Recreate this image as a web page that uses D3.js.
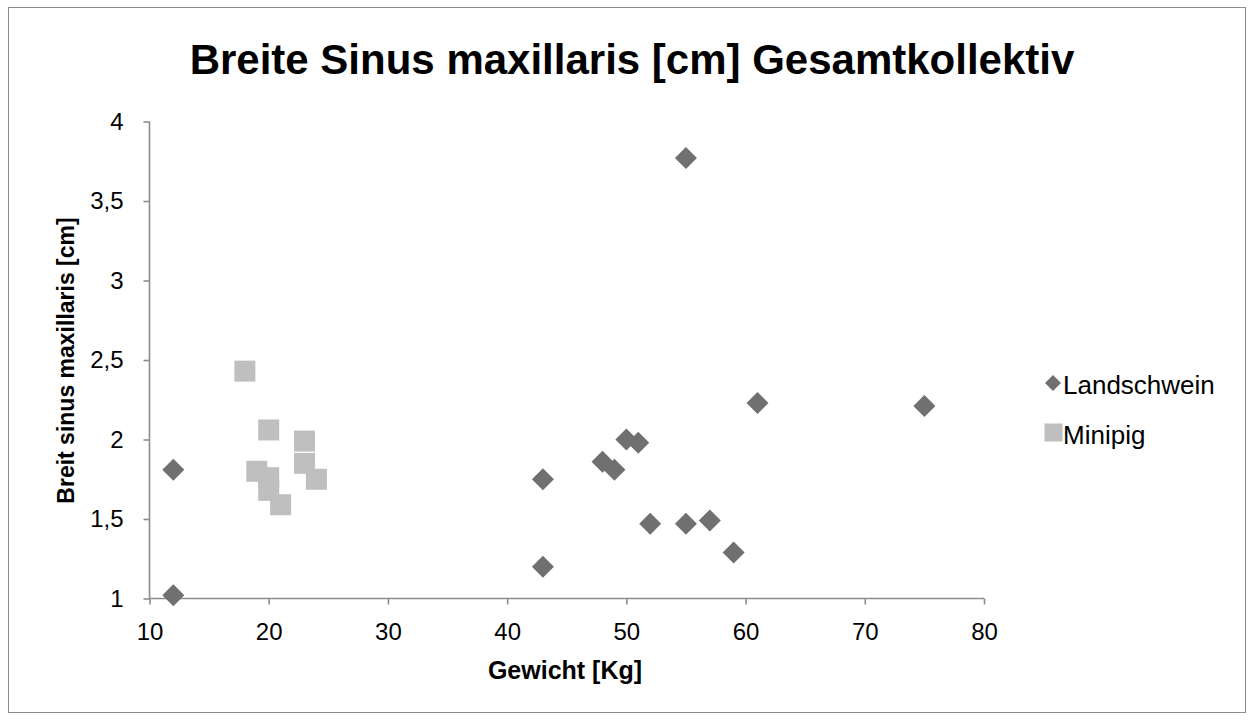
<!DOCTYPE html>
<html>
<head>
<meta charset="utf-8">
<script src="https://cdn.jsdelivr.net/npm/d3@7"></script>
<style>
  html, body { margin: 0; padding: 0; background: #fff; }
  svg { display: block; font-family: "Liberation Sans", Arial, sans-serif; }
</style>
</head>
<body>
<svg id="chart" width="1254" height="721"></svg>
<script>
// Gewicht [Kg] and Breite Sinus maxillaris [cm] per animal
const landschweinX = [12, 12, 43, 43, 48, 49, 50, 51, 52, 55, 57, 59, 61, 75, 55];
const landschweinY = [1.81, 1.02, 1.75, 1.20, 1.86, 1.81, 2.00, 1.98, 1.47, 1.47, 1.49, 1.29, 2.23, 2.21, 3.77];
const minipigX = [18, 20, 23, 23, 19, 20, 20, 24, 21];
const minipigY = [2.43, 2.06, 1.99, 1.85, 1.80, 1.76, 1.68, 1.75, 1.59];

const xTicks = [10, 20, 30, 40, 50, 60, 70, 80];
const yTicks = [1, 1.5, 2, 2.5, 3, 3.5, 4];
const seriesNames = ["Landschwein", "Minipig"];

const svg = d3.select("#chart");
const W = 1254, H = 721;

// outer chart frame
svg.append("rect")
  .attr("x", 8.5).attr("y", 7.5)
  .attr("width", W - 17).attr("height", H - 16)
  .attr("fill", "#fff").attr("stroke", "#8c8c8c").attr("stroke-width", 1);

const plot = { left: 149.5, right: 984, top: 121.5, bottom: 598.5 };

const x = d3.scaleLinear().domain([10, 80]).range([plot.left, plot.right]);
const y = d3.scaleLinear().domain([1, 4]).range([plot.bottom, plot.top]);

const fmt = d => String(d).replace(".", ",");

// title
svg.append("text")
  .attr("x", 632).attr("y", 74)
  .attr("text-anchor", "middle")
  .attr("font-size", 42).attr("font-weight", "bold")
  .attr("fill", "#000")
  .text("Breite Sinus maxillaris [cm] Gesamtkollektiv");

// axes
const xAxis = svg.append("g")
  .attr("transform", `translate(0,${plot.bottom})`)
  .call(d3.axisBottom(x).tickValues(xTicks).tickSize(6).tickPadding(18).tickFormat(fmt));
const yAxis = svg.append("g")
  .attr("transform", `translate(${plot.left},0)`)
  .call(d3.axisLeft(y).tickValues(yTicks).tickSize(6).tickPadding(20).tickFormat(fmt));

[xAxis, yAxis].forEach(g => {
  g.select(".domain").attr("stroke", "#8c8c8c").attr("stroke-width", 1.6);
  g.selectAll(".tick line").attr("stroke", "#8c8c8c").attr("stroke-width", 1.6);
  g.selectAll(".tick text")
    .attr("fill", "#000").attr("font-size", 24)
    .attr("font-family", "'Liberation Sans', Arial, sans-serif");
});
// domain lines without end caps
xAxis.select(".domain").attr("d", `M${plot.left},0H${plot.right}`);
yAxis.select(".domain").attr("d", `M0,${plot.bottom}V${plot.top}`);

// axis titles
svg.append("text")
  .attr("x", 565).attr("y", 679)
  .attr("text-anchor", "middle")
  .attr("font-size", 25).attr("font-weight", "bold")
  .text("Gewicht [Kg]");
svg.append("text")
  .attr("transform", `translate(73.5,360.5) rotate(-90)`)
  .attr("text-anchor", "middle")
  .attr("font-size", 23).attr("font-weight", "bold")
  .text("Breit sinus maxillaris [cm]");

const diamondColor = "#707070";
const squareColor = "#bfbfbf";

// Minipig squares
const sq = 21;
svg.append("g").selectAll("rect")
  .data(d3.zip(minipigX, minipigY))
  .join("rect")
  .attr("x", d => x(d[0]) - sq / 2)
  .attr("y", d => y(d[1]) - sq / 2)
  .attr("width", sq).attr("height", sq)
  .attr("fill", squareColor);

// Landschwein diamonds
const dh = 11;
svg.append("g").selectAll("path")
  .data(d3.zip(landschweinX, landschweinY))
  .join("path")
  .attr("d", d => {
    const cx = x(d[0]), cy = y(d[1]);
    return `M${cx},${cy - dh}L${cx + dh},${cy}L${cx},${cy + dh}L${cx - dh},${cy}Z`;
  })
  .attr("fill", diamondColor);

// legend
const legend = svg.append("g");
const lh = 8;
legend.append("path")
  .attr("d", `M1053,${383 - lh}L${1053 + lh},383L1053,${383 + lh}L${1053 - lh},383Z`)
  .attr("fill", diamondColor);
legend.append("rect")
  .attr("x", 1044.5).attr("y", 423.5).attr("width", 18).attr("height", 18)
  .attr("fill", squareColor);
legend.selectAll("text")
  .data(seriesNames)
  .join("text")
  .attr("x", 1063)
  .attr("y", (d, i) => 394 + i * 50)
  .attr("font-size", 26)
  .attr("fill", "#000")
  .text(d => d);
</script>
</body>
</html>
